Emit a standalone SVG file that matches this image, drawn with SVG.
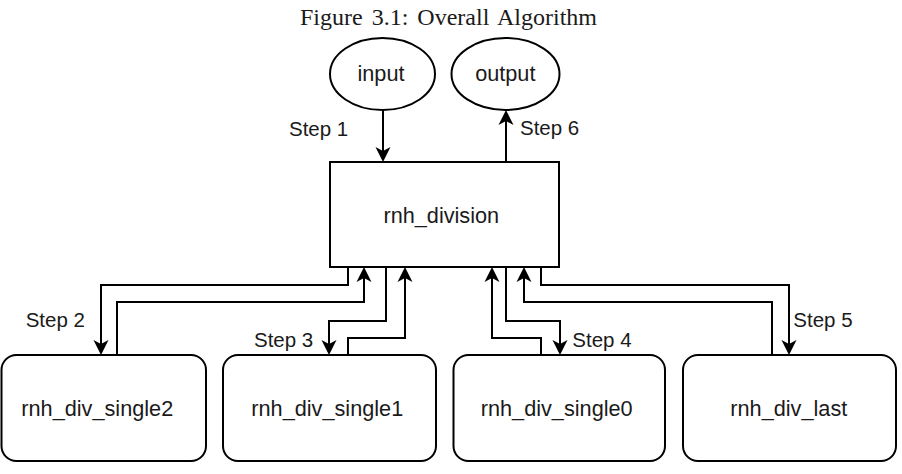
<svg xmlns="http://www.w3.org/2000/svg" width="902" height="474" viewBox="0 0 902 474">
<style>
.shape{fill:#fff;stroke:#000;stroke-width:2}
.lbl{font-family:"Liberation Sans",Arial,sans-serif;font-size:21.7px;fill:#1a1a1a;text-anchor:middle}
.step{font-family:"Liberation Sans",Arial,sans-serif;font-size:20.5px;fill:#1a1a1a}
.conn{fill:none;stroke:#000;stroke-width:2;marker-end:url(#arr)}
.title{font-family:"Liberation Serif","Times New Roman",serif;font-size:24px;fill:#1a1a1a;word-spacing:3px}
</style>
<defs>
<marker id="arr" markerUnits="userSpaceOnUse" viewBox="-14 -8 18 16" markerWidth="18" markerHeight="16" refX="0" refY="0" orient="auto">
<path d="M3,0 L-12,-7.5 L-8,0 L-12,7.5 Z" fill="#000"/>
</marker>
</defs>
<text class="title" x="300" y="25">Figure 3.1: Overall Algorithm</text>
<g id="input"><ellipse class="shape" cx="382.5" cy="74" rx="52.5" ry="36"/><text class="lbl" x="381" y="81">input</text></g>
<g id="output"><ellipse class="shape" cx="505.5" cy="74" rx="54" ry="36"/><text class="lbl" x="505.3" y="81">output</text></g>
<g id="rnh_division"><rect class="shape" x="330" y="162" width="229" height="105"/><text class="lbl" x="441.3" y="222.5">rnh_division</text></g>
<g id="rnh_div_single2"><rect class="shape" x="1.5" y="355" width="204.5" height="106" rx="15"/><text class="lbl" x="97.3" y="416">rnh_div_single2</text></g>
<g id="rnh_div_single1"><rect class="shape" x="223" y="355" width="213" height="106" rx="15"/><text class="lbl" x="327.3" y="416">rnh_div_single1</text></g>
<g id="rnh_div_single0"><rect class="shape" x="453.5" y="355" width="211.5" height="106" rx="15"/><text class="lbl" x="556.7" y="416">rnh_div_single0</text></g>
<g id="rnh_div_last"><rect class="shape" x="683" y="355" width="213" height="106" rx="15"/><text class="lbl" x="788.8" y="416">rnh_div_last</text></g>
<g id="connectors">
<path class="conn" d="M383,110 V159"/>
<path class="conn" d="M506,162 V113"/>
<path class="conn" d="M348,267 V285 H101 V352"/>
<path class="conn" d="M117,355 V302 H364 V270"/>
<path class="conn" d="M386,267 V321 H329 V352"/>
<path class="conn" d="M348,355 V338 H405 V270"/>
<path class="conn" d="M541,355 V338 H492 V270"/>
<path class="conn" d="M506,267 V321 H560 V352"/>
<path class="conn" d="M772,355 V302 H524 V270"/>
<path class="conn" d="M541,267 V285 H789 V352"/>
</g>
<g id="step-labels">
<text class="step" x="289" y="136">Step 1</text>
<text class="step" x="520" y="135">Step 6</text>
<text class="step" x="25.7" y="327">Step 2</text>
<text class="step" x="254" y="346.5">Step 3</text>
<text class="step" x="572.3" y="346.5">Step 4</text>
<text class="step" x="793.3" y="327">Step 5</text>
</g>
</svg>
